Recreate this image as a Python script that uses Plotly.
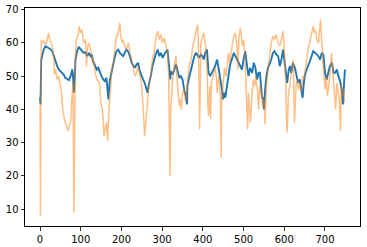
import plotly.graph_objects as go

blue_x = [0, 1, 3, 5, 9, 13, 17, 21, 25, 30, 34, 38, 42, 46, 50, 54, 58, 62, 66, 71, 75, 79, 81, 83, 85, 87,
          91, 95, 99, 103, 107, 111, 116, 120, 124, 127, 130, 134, 139, 143, 147, 151, 155, 159, 163, 166, 168,
          171, 175, 180, 184, 188, 192, 196, 200, 204, 208, 212, 216, 221, 225, 229, 233, 237, 241, 245, 249,
          253, 257, 261, 264, 268, 272, 276, 280, 284, 289, 293, 297, 301, 305, 309, 313, 317, 320, 321, 326,
          330, 334, 338, 342, 346, 350, 354, 358, 361, 362, 366, 371, 375, 379, 383, 387, 391, 395, 399, 402,
          406, 410, 414, 418, 422, 426, 430, 435, 439, 443, 447, 449, 452, 455, 459, 463, 467, 471, 476, 480,
          484, 488, 492, 496, 500, 504, 508, 512, 516, 521, 525, 529, 533, 537, 540, 542, 545, 548, 550, 553,
          556, 560, 564, 568, 572, 576, 580, 585, 589, 593, 597, 601, 605, 607, 611, 614, 617, 621, 626, 630,
          634, 638, 642, 645, 648, 651, 655, 659, 663, 667, 671, 676, 680, 684, 688, 692, 696, 700, 704, 708,
          712, 717, 721, 725, 729, 733, 737, 741, 744, 746, 749]
blue_y = [43.5, 41.5, 55, 56, 58, 59, 58.8, 58.5, 58.2, 57.5, 56, 54, 53, 52, 51.5, 51, 50.5, 49.5, 49.2, 48.8,
          50, 52, 50, 45, 49, 55, 57.5, 58.8, 58.2, 57.5, 57, 57.2, 56, 57, 56, 56.5, 54.5, 53.5, 52, 52.5, 51,
          50, 49, 48.5, 49.5, 46, 43, 48.5, 51, 53.5, 56, 57.5, 58, 57, 56.5, 56, 57, 58, 57.5, 56, 54, 53, 52.5,
          53.5, 54, 51.5, 50, 49, 48, 46.5, 45, 48, 50, 53, 55, 56.5, 58, 56, 57, 55.5, 56.5, 57.5, 58, 53, 49,
          51.5, 50.5, 52, 53.5, 51.5, 49.5, 50, 49, 46, 44, 41.5, 47, 49.5, 52, 54, 56, 57, 56, 55.5, 56.5, 56,
          55, 57, 58, 51, 50, 51, 52, 53, 55, 52, 50, 46, 43, 45, 43.5, 47, 50, 53.5, 55, 57, 56, 55, 54, 53.5,
          52, 55, 57.5, 53.5, 50, 52.5, 51, 54, 52.5, 49, 51, 51, 47, 44, 43, 40, 46, 50, 52.5, 53.5, 55, 57,
          57.5, 56.5, 56, 53, 55, 58, 54, 50, 48, 52, 53, 51, 54, 52.5, 50, 48, 49, 46, 43.5, 48, 50.5, 52, 53,
          54.5, 56, 57.5, 57, 56.5, 56, 55, 57, 56.5, 51, 49, 51, 53, 54, 51, 51, 52, 50, 48.5, 46, 41.5, 46, 52]

orange_x = [0, 1, 3, 5, 9, 13, 17, 21, 24, 27, 30, 34, 35, 38, 42, 46, 48, 50, 53, 54, 57, 58, 62, 66, 69, 71,
            75, 77, 79, 81, 83, 85, 87, 89, 93, 96, 99, 103, 107, 112, 114, 117, 120, 124, 126, 129, 130, 135,
            139, 143, 147, 149, 153, 155, 157, 160, 163, 166, 168, 171, 174, 176, 180, 184, 188, 190, 194, 196,
            198, 202, 204, 208, 212, 217, 221, 225, 229, 233, 237, 241, 245, 249, 252, 254, 257, 259, 262, 264,
            268, 272, 276, 280, 285, 289, 293, 297, 301, 305, 309, 313, 316, 318, 319, 321, 324, 327, 330, 334,
            336, 339, 342, 344, 347, 350, 354, 357, 360, 362, 366, 371, 375, 379, 383, 387, 389, 392, 395, 399,
            402, 406, 408, 411, 412, 414, 417, 419, 421, 425, 428, 430, 433, 435, 439, 441, 443, 445, 446, 448,
            451, 453, 457, 460, 463, 466, 470, 473, 476, 480, 484, 486, 489, 492, 494, 497, 500, 503, 505, 507,
            510, 512, 515, 517, 521, 524, 527, 530, 534, 537, 540, 544, 547, 550, 553, 556, 560, 564, 568, 572,
            576, 580, 585, 589, 593, 597, 599, 603, 605, 607, 610, 612, 616, 619, 622, 625, 629, 632, 635, 639,
            642, 645, 648, 652, 655, 658, 662, 666, 671, 674, 676, 680, 684, 686, 689, 692, 694, 698, 700, 703,
            706, 709, 712, 716, 719, 722, 726, 729, 732, 735, 738, 740, 743, 745, 748]
orange_y = [41, 8, 61, 60, 60.5, 59.5, 60.5, 63, 61, 60, 59, 55, 50.5, 52, 49, 50, 47.5, 47, 45, 42, 39, 38, 36,
            34.5, 33.5, 35, 36, 41, 46, 48, 9, 45, 55, 61, 62, 65, 63, 64, 60, 61, 53, 59, 60, 58, 57, 54, 55.5,
            51.5, 49, 48.5, 47, 42, 40, 37, 32, 34, 36, 30.5, 37, 44, 47, 52, 54, 59, 62.5, 62, 65, 66, 62, 60,
            61, 59, 58, 60, 57, 55, 52.5, 50, 51, 53, 50, 48, 43, 37, 32, 35, 40, 42, 48, 50, 55, 57, 62, 63.5,
            61, 62.5, 60, 61.5, 59, 57, 50, 30, 20, 40, 47, 51, 53.5, 56, 50, 45, 41, 43, 40, 45, 46, 42.5, 44,
            48, 53, 55, 59, 61, 63, 65.5, 60, 34, 60, 62, 63, 60, 55, 50, 42, 38, 47, 37, 48, 50.5, 52, 52.5, 50,
            45, 50, 48, 44, 25.5, 42, 46, 50, 52.5, 50, 54, 57, 54, 58, 60, 62, 63, 59, 52, 62, 64.5, 62.5, 59,
            61, 57, 50, 44, 34, 45, 40, 36, 45, 49, 47, 50, 46, 40, 47, 45, 41, 43, 35.5, 47, 52, 56, 60, 62, 61,
            62.5, 60, 59, 61, 63.5, 60, 50, 38, 33, 44, 46, 50, 53, 55, 36, 47, 49, 46, 48, 45, 50, 49, 52, 55,
            58, 60, 62, 65, 63, 64, 61, 60, 63, 67, 60, 57, 50, 46, 50, 44, 47, 50, 57, 52, 47, 40, 48, 45, 43,
            33.5, 47, 44, 46, 42]

x_ticks = [0, 100, 200, 300, 400, 500, 600, 700]
y_ticks = [10, 20, 30, 40, 50, 60, 70]

fig = go.Figure()
fig.add_trace(go.Scatter(x=blue_x, y=blue_y, mode="lines",
                         line=dict(color="#1f77b4", width=1.9)))
fig.add_trace(go.Scatter(x=orange_x, y=orange_y, mode="lines", opacity=0.5,
                         line=dict(color="#ff7f0e", width=1.5)))

axis_common = dict(showgrid=False, zeroline=False, showline=True, linecolor="black", linewidth=1,
                   mirror=True, ticks="outside", ticklen=3.5, tickwidth=0.8, tickcolor="black",
                   automargin=False,
                   tickfont=dict(family="DejaVu Sans", size=10, color="black"))
fig.update_layout(
    width=367, height=247,
    margin=dict(l=25, r=7, t=8, b=21),
    paper_bgcolor="white", plot_bgcolor="white",
    showlegend=False,
    hovermode=False,
    xaxis=dict(range=[-37, 786], tickvals=x_ticks, **axis_common),
    yaxis=dict(range=[4.9, 70.5], tickvals=y_ticks, **axis_common),
)
fig.write_html("out.html", config={"displayModeBar": False, "staticPlot": True},
               post_script="document.body.style.margin='0';document.body.style.overflow='hidden';")
